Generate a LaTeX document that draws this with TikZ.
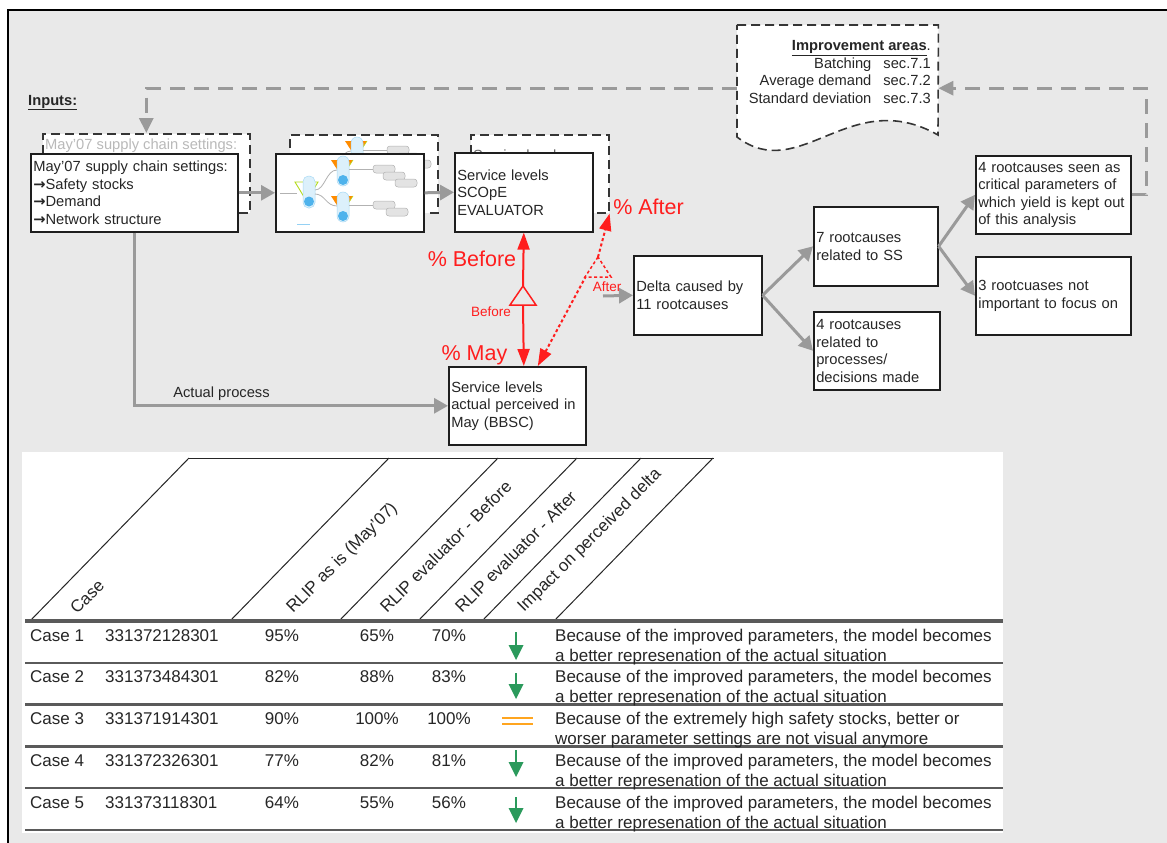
\documentclass[tikz,border=0pt]{standalone}
\usepackage{fontspec}
\setmainfont{Liberation Sans}
\newfontfamily\symfont{DejaVu Sans}
\usetikzlibrary{arrows.meta,calc}

\definecolor{bg}{HTML}{E9E9E9}
\definecolor{flow}{HTML}{9A9A9A}
\definecolor{ink}{HTML}{262626}
\definecolor{edge}{HTML}{1E1E1E}
\definecolor{hot}{HTML}{FF1E1E}
\definecolor{good}{HTML}{2B9A5C}
\definecolor{same}{HTML}{FFA51F}
\definecolor{netblue}{HTML}{4FB3EC}
\definecolor{rule}{HTML}{5A5A5A}

\newcommand\boxfont{\fontsize{14.7}{17.5}\selectfont}
\newcommand\tabfont{\fontsize{17}{20}\selectfont}
\newcommand\bigredfont{\fontsize{21.5}{24}\selectfont}
\newcommand\tagfont{\fontsize{13.5}{15}\selectfont}
\newcommand\bulletarrow{{\symfont\bfseries →}}
\newcommand\improvedA{Because of the improved parameters, the model becomes}
\newcommand\improvedB{a better represenation of the actual situation}
\newcommand\extremeA{Because of the extremely high safety stocks, better or}
\newcommand\extremeB{worser parameter settings are not visual anymore}

\begin{document}
\begin{tikzpicture}[x=1pt,y=-1pt,
  frontbox/.style={draw=edge, fill=white, line width=1.6pt, inner xsep=2.5pt, inner ysep=0pt,
    align=left, font=\boxfont, text=ink, anchor=north west},
  backbox/.style={draw=edge!90, fill=white, line width=1.6pt, dash pattern=on 9pt off 5pt,
    inner sep=0pt, anchor=north west},
  flowarrow/.style={draw=flow, line width=3pt, -{Triangle[length=14pt,width=15pt]}},
  feedback/.style={draw=flow, line width=3pt, dash pattern=on 15pt off 9pt,
    -{Triangle[length=15pt,width=14pt]}},
  redsolid/.style={draw=hot, line width=2pt},
  reddot/.style={draw=hot, line width=2pt, dash pattern=on 3pt off 2.5pt},
  redtip/.tip={Triangle[length=17pt,width=12pt]},
  hdr/.style={draw=black!85, line width=1pt},
  tabtext/.style={font=\tabfont, text=ink, inner sep=0pt},
  hdrtext/.style={font=\tabfont, text=ink, inner sep=0pt, rotate=45, anchor=base west},
  custbox/.style={draw=gray!60, fill=gray!22, line width=0.5pt, rounded corners=3pt},
  netgraph/.pic={
    % feed line and first stock point
    \draw[gray!60, line width=0.6pt] (5,40) -- (22,40);
    \draw[draw=yellow!70!green, line width=0.9pt, fill=white] (20,29) -- (43,29) -- (31.5,48) -- cycle;
    \draw[draw=netblue!50, fill=netblue!20, line width=0.5pt, rounded corners=5.5pt] (28,23) rectangle (40,55);
    \fill[netblue] (34,48.5) circle (5);
    % branches to the two downstream stock points
    \draw[gray!60, line width=0.8pt] (40,37) .. controls (50,37) and (51,17) .. (62,17);
    \draw[gray!60, line width=0.8pt] (40,41) .. controls (50,41) and (51,53) .. (62,53);
    \foreach \dy in {0,36} {
      \fill[orange!90!yellow] (56,7+\dy) -- (78,7+\dy) -- (67,24+\dy) -- cycle;
      \draw[yellow!70!green, line width=0.6pt] (78,7+\dy) -- (67,24+\dy);
      \draw[draw=netblue!50, fill=netblue!20, line width=0.5pt, rounded corners=6pt] (62,3+\dy) rectangle (74,33+\dy);
      \fill[netblue] (68,27+\dy) circle (5);
      \draw[gray!60, line width=0.6pt] (74,16+\dy) -- (98,16+\dy);
    }
    % customers
    \draw[custbox] (98,12) rectangle (120,20);
    \draw[custbox] (108,19) rectangle (130,27);
    \draw[custbox] (120,26) rectangle (142,34);
    \draw[custbox] (98,48) rectangle (120,56);
    \draw[custbox] (111,55) rectangle (133,63);
    \draw[netblue!60, line width=0.8pt] (22,71) -- (35,71);
  }
]
\useasboundingbox (0,0) rectangle (1167,843);

% page background and frame
\fill[white] (0,0) rectangle (1167,843);
\fill[bg] (8,10) rectangle (1167,843);
\draw[black, line width=2pt] (8,843) -- (8,10) -- (1167,10);

% ---------------- flow chart ----------------
\node[font=\boxfont\bfseries, text=ink, anchor=base west, inner sep=0pt] (inputs) at (28,105) {\underline{Inputs:}};

% improvement areas (document shape)
\node[minimum width=201pt, minimum height=126pt, inner sep=0pt, anchor=north west] (doc) at (737,25) {};
\draw[draw=edge!90, fill=white, line width=1.6pt, dash pattern=on 9pt off 5pt]
  (doc.north west) -- (doc.north east) -- ($(doc.north west)+(201,110)$)
  .. controls ($(doc.north west)+(113,60)$) and ($(doc.north west)+(63,160)$) .. ($(doc.north west)+(0,112)$) -- cycle;
\node[font=\boxfont, text=ink, align=right, anchor=north east, inner sep=0pt] (doctext) at (931,40.5)
  {\underline{\textbf{Improvement areas}}.\\
   Batching\hspace{12pt}sec.7.1\\
   Average demand\hspace{12pt}sec.7.2\\
   Standard deviation\hspace{12pt}sec.7.3};

% stacked copies behind the first three boxes
\node[backbox, minimum width=207pt, minimum height=79pt] (b1back) at (42,133) {};
\node[font=\boxfont, text=gray!55, inner sep=0pt, anchor=base west] (b1backtext) at (45,149.5)
  {May'07 supply chain settings:};
\node[backbox, minimum width=148pt, minimum height=78pt] (b2back) at (289,134) {};
\pic at (289,134) {netgraph};
\node[backbox, minimum width=138pt, minimum height=78pt] (b3back) at (470,134) {};
\node[font=\boxfont, text=gray!80!black, inner sep=0pt, anchor=base west] (b3backtext) at (473,160)
  {Service levels};

% main boxes
\node[frontbox, text width=202pt, minimum height=78pt] (b1) at (30,153)
  {May'07 supply chain settings:\\\bulletarrow Safety stocks\\\bulletarrow Demand\\\bulletarrow Network structure};
\node[frontbox, minimum width=148pt, minimum height=78pt, inner sep=0pt] (b2) at (275,153) {};
\pic at (275,153) {netgraph};
\node[frontbox, text width=133pt, minimum height=79pt] (b3) at (454,152)
  {Service levels\\SCOpE\\EVALUATOR};
\node[frontbox, text width=132pt, minimum height=78pt] (b4) at (448,366)
  {Service levels\\actual perceived in\\May (BBSC)};
\node[frontbox, text width=123pt, minimum height=79pt] (b5) at (633,255)
  {Delta caused by\\11 rootcauses};
\node[frontbox, text width=119pt, minimum height=79pt] (b6) at (813,206)
  {7 rootcauses\\related to SS};
\node[frontbox, text width=121pt, minimum height=78pt] (b7) at (813,311)
  {4 rootcauses\\related to\\processes/\\decisions made};
\node[frontbox, text width=150pt, minimum height=78pt] (b8) at (975,155)
  {4 rootcauses seen as\\critical parameters of\\which yield is kept out\\of this analysis};
\node[frontbox, text width=150pt, minimum height=78pt] (b9) at (975,256)
  {3 rootcuases not\\important to focus on};

% grey flow arrows
\draw[flowarrow] (b1.east) -- (b2.west);
\draw[flowarrow] (b2.east) -- (b3.west);
\draw[flowarrow] (b1.south) |- (b4.west);
\node[font=\boxfont, text=ink, inner sep=0pt] (actual) at (221.5,394) {Actual process};
\coordinate (afterfeed) at (603,296);
\draw[flowarrow] (afterfeed) -- (b5.west);
\draw[flowarrow] (b5.east) -- (b6.west);
\draw[flowarrow] (b5.east) -- (b7.west);
\draw[flowarrow] (b6.east) -- (b8.west);
\draw[flowarrow] (b6.east) -- (b9.west);

% feedback loop
\draw[feedback] (b8.east) -- ++(15,0) |- (doc.east);
\draw[feedback] (doc.west) -| (b1back.north);

% comparison arrows (red)
\coordinate (trBtop) at (523,286);
\coordinate (trBbot) at (523,305);
\draw[redsolid, {redtip}-] (b3.south) -- (trBtop);
\draw[redsolid, -{redtip}] (trBbot) -- (b3.south |- b4.north);
\draw[redsolid, line width=1.5pt, fill=bg] (523,286) -- (510,305) -- (536,305) -- cycle;

\coordinate (dotfoot) at ($(b4.north)+(20.5,0)$);
\coordinate (trAleft) at (586,276);
\coordinate (trAapex) at (598,257);
\draw[reddot, -{redtip}] (trAleft) -- (dotfoot);
\draw[reddot, -{redtip}] (trAapex) -- (b3back.south east);
\draw[reddot, line width=1.5pt, fill=bg] (598,257) -- (585,277) -- (611,277) -- cycle;

\node[text=hot, font=\bigredfont, inner sep=0pt] (pbefore) at (472,259) {\% Before};
\node[text=hot, font=\bigredfont, inner sep=0pt] (pmay) at (474.5,355) {\% May};
\node[text=hot, font=\bigredfont, inner sep=0pt] (pafter) at (648.5,207) {\% After};
\node[text=hot, font=\tagfont, inner sep=0pt] (tbefore) at (491,312) {Before};
\node[text=hot, font=\tagfont, inner sep=0pt] (tafter) at (607,287) {After};

% ---------------- table ----------------
\fill[white] (22,452) rectangle (1003,833);
\draw[hdr] (188,458) -- (714,458);
\foreach \xb in {30,230,339,418,482,554} \draw[hdr] (\xb,621) -- (\xb+159,458);
\node[hdrtext] (hcase) at (77,615) {Case};
\node[hdrtext] (hasis) at (293,614) {RLIP as is (May'07)};
\node[hdrtext] (hbefore) at (387,614) {RLIP evaluator - Before};
\node[hdrtext] (hafter) at (462,614) {RLIP evaluator - After};
\node[hdrtext] (himpact) at (524,613) {Impact on perceived delta};

\draw[rule, line width=3.5pt] (25,621) -- (1003,621);
\foreach \yl in {662.8,704.6,746.4,788.2,830} \draw[rule, line width=2.4pt] (25,\yl) -- (1003,\yl);

\foreach \k/\num/\va/\vb/\vc in {1/331372128301/95/65/70, 2/331373484301/82/88/83,
    3/331371914301/90/100/100, 4/331372326301/77/82/81, 5/331373118301/64/55/56} {
  \pgfmathsetmacro\yb{641+41.8*(\k-1)}
  \node[tabtext, anchor=base west] (case\k) at (30,\yb) {Case \k};
  \node[tabtext, anchor=base west] (id\k) at (105,\yb) {\num};
  \node[tabtext, anchor=base] (asis\k) at (282,\yb) {\va\%};
  \node[tabtext, anchor=base] (bef\k) at (377,\yb) {\vb\%};
  \node[tabtext, anchor=base] (aft\k) at (449,\yb) {\vc\%};
}
\foreach \k/\la/\lb in {1/\improvedA/\improvedB, 2/\improvedA/\improvedB, 3/\extremeA/\extremeB,
    4/\improvedA/\improvedB, 5/\improvedA/\improvedB} {
  \pgfmathsetmacro\yb{641+41.8*(\k-1)}
  \node[tabtext, anchor=base west] (whya\k) at (555,\yb) {\la};
  \node[tabtext, anchor=base west] (whyb\k) at (555,\yb+20) {\lb};
}

% impact icons: green arrows (down) and orange bars (equal)
\foreach \yt/\ye in {632/660, 673/699, 750/777, 797/823} {
  \draw[good, line width=2.6pt] (516,\yt) -- (516,\ye-14);
  \fill[good] (508.5,\ye-15) -- (523.5,\ye-15) -- (516,\ye) -- cycle;
}
\draw[same, line width=2.5pt] (502,718) -- (533,718) (502,724) -- (533,724);

\end{tikzpicture}
\end{document}
